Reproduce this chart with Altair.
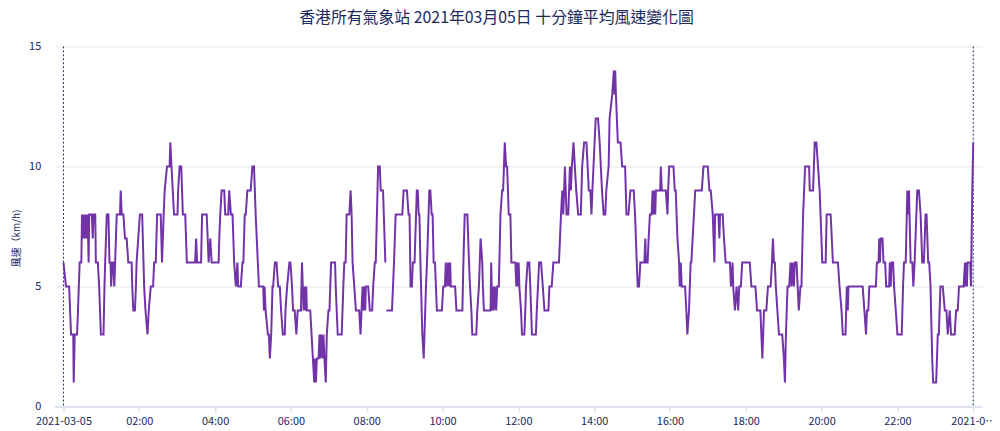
import altair as alt
import pandas as pd

TITLE = "香港所有氣象站 2021年03月05日 十分鐘平均風速變化圖"
Y_TITLE = "風速（km/h)"

# minutes after 2021-03-05 00:00 and 10-minute mean wind speed (km/h)
MINUTES = [
    0, 4, 9, 12, 15.5, 16.2, 17.8, 21.5, 23, 25.6,
    28.3, 29.3, 31, 32.5, 34, 35.5, 37, 38.2, 39.8, 40.8,
    45, 46.3, 47.6, 50.3, 51.3, 54.4, 56.5, 59.2, 63.4, 64.9,
    66, 68.6, 71.2, 72.8, 74.5, 75.5, 77, 78.5, 80.5, 84.3,
    89.5, 90.6, 92.2, 94.8, 97.4, 100, 102.6, 107.9, 108.9, 110.5,
    113.1, 114.7, 115.7, 121, 124.6, 127.7, 129.8, 133, 135, 138.2,
    141.9, 143.5, 146.1, 148.2, 153.9, 156, 158.6, 160.2, 163.9, 168,
    169.1, 171, 173, 175, 180.5, 181.5, 183.8, 186.4, 189, 192.7,
    195.3, 208.4, 210, 211.5, 217.8, 219.4, 226.7, 228.3, 229.8, 232.4,
    234.6, 245.6, 246.6, 248.2, 250.3, 254.5, 256, 260.8, 262.3, 265,
    267.6, 270.2, 272.8, 275.4, 276.5, 280.7, 283.3, 284.8, 286.9, 288.5,
    291.1, 296.3, 299, 301.6, 304.2, 309.4, 316.2, 317.3, 318.3, 319.9,
    323.6, 325.1, 326.7, 328.8, 330.9, 331.9, 334.6, 337.2, 339.8, 342.4,
    344.5, 347.2, 350.3, 351.4, 354, 357.6, 359.2, 361.8, 363.4, 366,
    368.6, 370.7, 375.9, 377.5, 380.1, 381.7, 383.2, 384.3, 385.3, 390.6,
    394.8, 396.9, 397.9, 399.5, 401.1, 403.7, 405.3, 406.3, 407.9, 410,
    411.5, 413.1, 415.2, 416.8, 419.4, 421, 423.6, 429.9, 430.9, 434.1,
    440.4, 443, 444.5, 446.6, 448.2, 452.4, 454.5, 456.1, 457.6, 460.3,
    462.9, 468.1, 470.2, 471.8, 473.4, 474.9, 476, 477.6, 478.6, 482.3,
    484.9, 488.6, 490.2, 492.8, 494.3, 498, 500.6, 502.2, 505.8, 509.5,
    511.1, 520, 521.6, 523.2, 525.8, 536.3, 538.4, 543.6, 546.2, 547.8,
    549.4, 551.5, 553, 555.7, 559.3, 560.8, 562.3, 563.4, 565, 568,
    570.2, 573.8, 575.4, 579.1, 580.7, 582.8, 584.3, 585.9, 588, 591.1,
    599, 601.1, 603.7, 605.2, 606.8, 608.9, 610.5, 612.1, 613.1, 619.9,
    622, 631.4, 633, 635.1, 639.3, 641.9, 643.5, 645.6, 647.1, 653.4,
    655, 657.6, 660.2, 662.9, 663.9, 665.5, 676, 677, 678.6, 680.2,
    681.2, 682.8, 684.9, 686.5, 689.1, 691.7, 694.3, 695.9, 698.5, 700.6,
    702.2, 704.8, 707.4, 709, 715.3, 716.8, 717.9, 719.5, 720.5, 721.6,
    724.2, 725.8, 729.5, 731, 732.1, 734.7, 737.3, 738.9, 741.5, 747.7,
    749.2, 752.9, 756, 758.7, 761.3, 767.6, 769.1, 772.8, 775.4, 784.3,
    787.5, 789.5, 791.1, 793.7, 796.3, 799, 801.6, 803.2, 804.7, 807.3,
    809.4, 811.6, 814.7, 818.9, 821, 824.1, 827.8, 831.5, 834, 835.7,
    837.2, 842.4, 846.1, 848.7, 852.4, 855, 857.6, 859.2, 862.9, 864.4,
    868.6, 871.2, 872.3, 873.3, 874.4, 877.5, 881.7, 884.3, 889, 891.1,
    894.3, 897.4, 902.6, 904.7, 907.4, 908.9, 911, 913.1, 919.4, 921,
    922, 924.6, 926.2, 928.3, 930.9, 932.5, 934.1, 935.1, 936.7, 937.7,
    944.5, 945.5, 947.1, 953.4, 956, 957.1, 958.7, 965.5, 967.6, 969.1,
    971.8, 974.4, 975.4, 977, 978.6, 983.8, 985.9, 987.5, 990.1, 992.7,
    993.8, 1000, 1010.4, 1013, 1019.8, 1022.4, 1024.5, 1027.7, 1030.3, 1031.4,
    1036.6, 1038.2, 1039.2, 1043.4, 1045.5, 1048.1, 1054.9, 1056.5, 1059.1, 1060.1,
    1062.8, 1065.4, 1068, 1069.6, 1072.2, 1074.3, 1086.3, 1088.9, 1095.2, 1097.8,
    1103.1, 1106.2, 1108.8, 1112.5, 1115.1, 1119.3, 1121.4, 1123, 1124.5, 1126,
    1127.5, 1130, 1132.5, 1137.7, 1140.3, 1141.9, 1143.5, 1146.1, 1148.7, 1150.8,
    1152.4, 1154, 1156.1, 1157.6, 1160.3, 1163.9, 1166.5, 1168.1, 1170.7, 1173.9,
    1180.2, 1181.2, 1186.5, 1189.1, 1191.7, 1194.3, 1196.9, 1201.1, 1206.4, 1208,
    1214.3, 1217.9, 1225.8, 1228.4, 1231.5, 1233.6, 1237.8, 1239.9, 1241.5, 1242.5,
    1265, 1267.7, 1270.3, 1271.8, 1273.9, 1275.5, 1285.9, 1287.5, 1290.1, 1291.2,
    1292.5, 1293.5, 1296.4, 1298, 1300.6, 1302.2, 1306.9, 1307.9, 1309.5, 1310.6,
    1313.2, 1314.7, 1317.4, 1320, 1326.8, 1328.9, 1330.4, 1333.1, 1335.7, 1337.3,
    1338.3, 1340.9, 1343.6, 1345.2, 1347.2, 1351.4, 1354, 1356.7, 1359.3, 1361.9,
    1364.5, 1366.1, 1368.7, 1370.3, 1372.4, 1375, 1376.6, 1381.3, 1383.9, 1385.5,
    1388.1, 1391.8, 1395, 1397.6, 1399.7, 1402.8, 1404.9, 1410.7, 1412.8, 1415.4,
    1417.5, 1424.8, 1426.9, 1428, 1429, 1430, 1431, 1435.3, 1436.4, 1438.5,
    1440,
]
SPEEDS = [
    6, 5, 5, 3, 3, 1, 3, 3, 4, 6,
    6, 8, 7, 8, 7, 8, 7, 8, 6, 8,
    8, 7, 8, 8, 6, 6, 5, 3, 3, 5,
    6, 8, 8, 6, 6, 5, 6, 6, 5, 8,
    8, 9, 8, 8, 7, 7, 6, 6, 5, 4,
    4, 5, 6, 8, 8, 5, 4, 3, 4, 5,
    5, 6, 6, 8, 8, 6, 8, 9, 10, 10,
    11, 10, 9, 8, 8, 9, 10, 10, 8, 8,
    6, 6, 7, 6, 6, 8, 8, 7, 6, 7,
    6, 6, 7, 8, 9, 9, 8, 8, 9, 8,
    8, 6, 5, 6, 5, 5, 6, 6, 8, 8,
    9, 9, 10, 10, 8, 5, 5, 4, 5, 4,
    3, 3, 2, 3, 5, 5, 6, 6, 5, 5,
    4, 3, 3, 4, 5, 6, 6, 5, 4, 4,
    3, 4, 4, 6, 4, 5, 4, 5, 4, 4,
    2, 1, 2, 1, 2, 2, 3, 2, 3, 2,
    3, 2, 1, 3, 4, 4, 6, 6, 5, 3,
    3, 5, 6, 6, 8, 8, 9, 8, 6, 5,
    4, 4, 3, 4, 5, 4, 5, 4, 5, 5,
    4, 4, 5, 6, 6, 10, 10, 9, 9, 6,
    4, 4, 5, 6, 8, 8, 9, 9, 8, 8,
    5, 5, 6, 6, 9, 9, 8, 8, 6, 3,
    2, 5, 6, 9, 9, 8, 8, 6, 6, 4,
    4, 5, 5, 6, 5, 6, 5, 6, 5, 5,
    4, 4, 6, 8, 8, 6, 5, 4, 3, 3,
    4, 5, 7, 6, 5, 4, 4, 6, 4, 5,
    4, 5, 4, 5, 5, 8, 9, 9, 11, 10,
    10, 8, 8, 6, 6, 5, 6, 5, 6, 5,
    4, 3, 3, 4, 5, 6, 6, 5, 3, 3,
    4, 6, 6, 5, 4, 4, 5, 5, 6, 6,
    8, 9, 8, 10, 8, 8, 10, 9, 10, 11,
    10, 9, 8, 8, 10, 11, 11, 9, 9, 8,
    9, 12, 12, 11, 9, 8, 8, 9, 10, 12,
    13, 14, 13, 14, 13, 11, 11, 10, 10, 8,
    8, 9, 9, 8, 6, 5, 5, 6, 6, 7,
    6, 6, 7, 8, 8, 9, 8, 9, 8, 9,
    9, 10, 9, 9, 8, 9, 10, 10, 9, 9,
    7, 6, 5, 6, 5, 5, 4, 3, 4, 6,
    6, 9, 9, 10, 10, 9, 9, 8, 6, 8,
    8, 7, 8, 8, 7, 6, 6, 5, 6, 5,
    4, 5, 4, 5, 5, 6, 6, 5, 5, 4,
    4, 2, 4, 4, 5, 5, 6, 7, 6, 6,
    5, 4, 3, 3, 2, 1, 3, 5, 5, 6,
    5, 6, 5, 6, 6, 4, 5, 5, 8, 10,
    10, 9, 9, 11, 11, 10, 9, 6, 6, 8,
    8, 6, 6, 5, 4, 3, 3, 5, 4, 5,
    5, 4, 3, 4, 4, 5, 5, 6, 6, 7,
    6, 7, 7, 6, 6, 5, 5, 6, 5, 6,
    6, 5, 4, 3, 3, 5, 6, 6, 9, 8,
    9, 6, 6, 5, 6, 9, 9, 8, 6, 6,
    8, 8, 6, 6, 5, 2, 1, 1, 3, 3,
    5, 5, 4, 4, 3, 4, 3, 3, 4, 4,
    5, 5, 6, 5, 6, 5, 6, 6, 5, 9,
    11,
]
# the record has a short break in it just after this minute
GAP_AFTER_MINUTE = 510

TICK_MINUTES = [0, 120, 240, 360, 480, 600, 720, 840, 960, 1080, 1200, 1320, 1440]
TICK_LABELS = ["2021-03-05", "02:00", "04:00", "06:00", "08:00", "10:00", "12:00",
               "14:00", "16:00", "18:00", "20:00", "22:00", "2021-0…"]
Y_TICKS = [0, 5, 10, 15]
DAY_EDGES = [0, 1440]

NAVY = "#1c2a5e"
FONT = "Noto Sans CJK TC"

df = pd.DataFrame({"minute": MINUTES, "speed": SPEEDS})
df["part"] = (df["minute"] > GAP_AFTER_MINUTE).astype(int)
edges = pd.DataFrame({"minute": DAY_EDGES})

label_expr = "[" + ",".join("'" + s + "'" for s in TICK_LABELS) + "][round(datum.value / 120)]"

x_scale = alt.Scale(domain=[-14, 1454], nice=False, zero=False)

line = alt.Chart(df).mark_line(color="#7233a8", strokeWidth=2).encode(
    x=alt.X("minute:Q", scale=x_scale,
            axis=alt.Axis(values=TICK_MINUTES, labelExpr=label_expr, grid=False,
                          domainColor="#dde3f1", domainWidth=2, tickColor="#dde3f1",
                          tickWidth=1.5, tickSize=6, labelColor=NAVY, labelFontSize=11,
                          labelFont=FONT, labelPadding=3, title=None, labelFlush=False)),
    y=alt.Y("speed:Q", scale=alt.Scale(domain=[0, 15], nice=False),
            axis=alt.Axis(values=Y_TICKS, grid=True, gridColor="#e6e6e6", domain=False,
                          ticks=False, labelColor=NAVY, labelFontSize=11, labelFont=FONT,
                          labelPadding=14, title=Y_TITLE, titleFontSize=10,
                          titleFont=FONT, titleFontWeight="normal", titleColor=NAVY,
                          titleX=-33, titleY=193, titleAngle=-90)),
    detail="part:N",
)

rules = alt.Chart(edges).mark_rule(color=NAVY, strokeDash=[2, 2], strokeWidth=1).encode(
    x=alt.X("minute:Q", scale=x_scale)
)

chart = (rules + line).properties(
    width=935,
    height=363,
    title=alt.TitleParams(TITLE, font=FONT, fontSize=16, fontWeight="normal",
                          color=NAVY, anchor="middle", dx=-22, offset=15),
    autosize=alt.AutoSizeParams(type="none"),
    padding={"left": 47, "top": 37, "right": 10, "bottom": 21},
).configure_view(stroke=None)

chart.save("out.html", embed_options={"renderer": "svg", "actions": False})
